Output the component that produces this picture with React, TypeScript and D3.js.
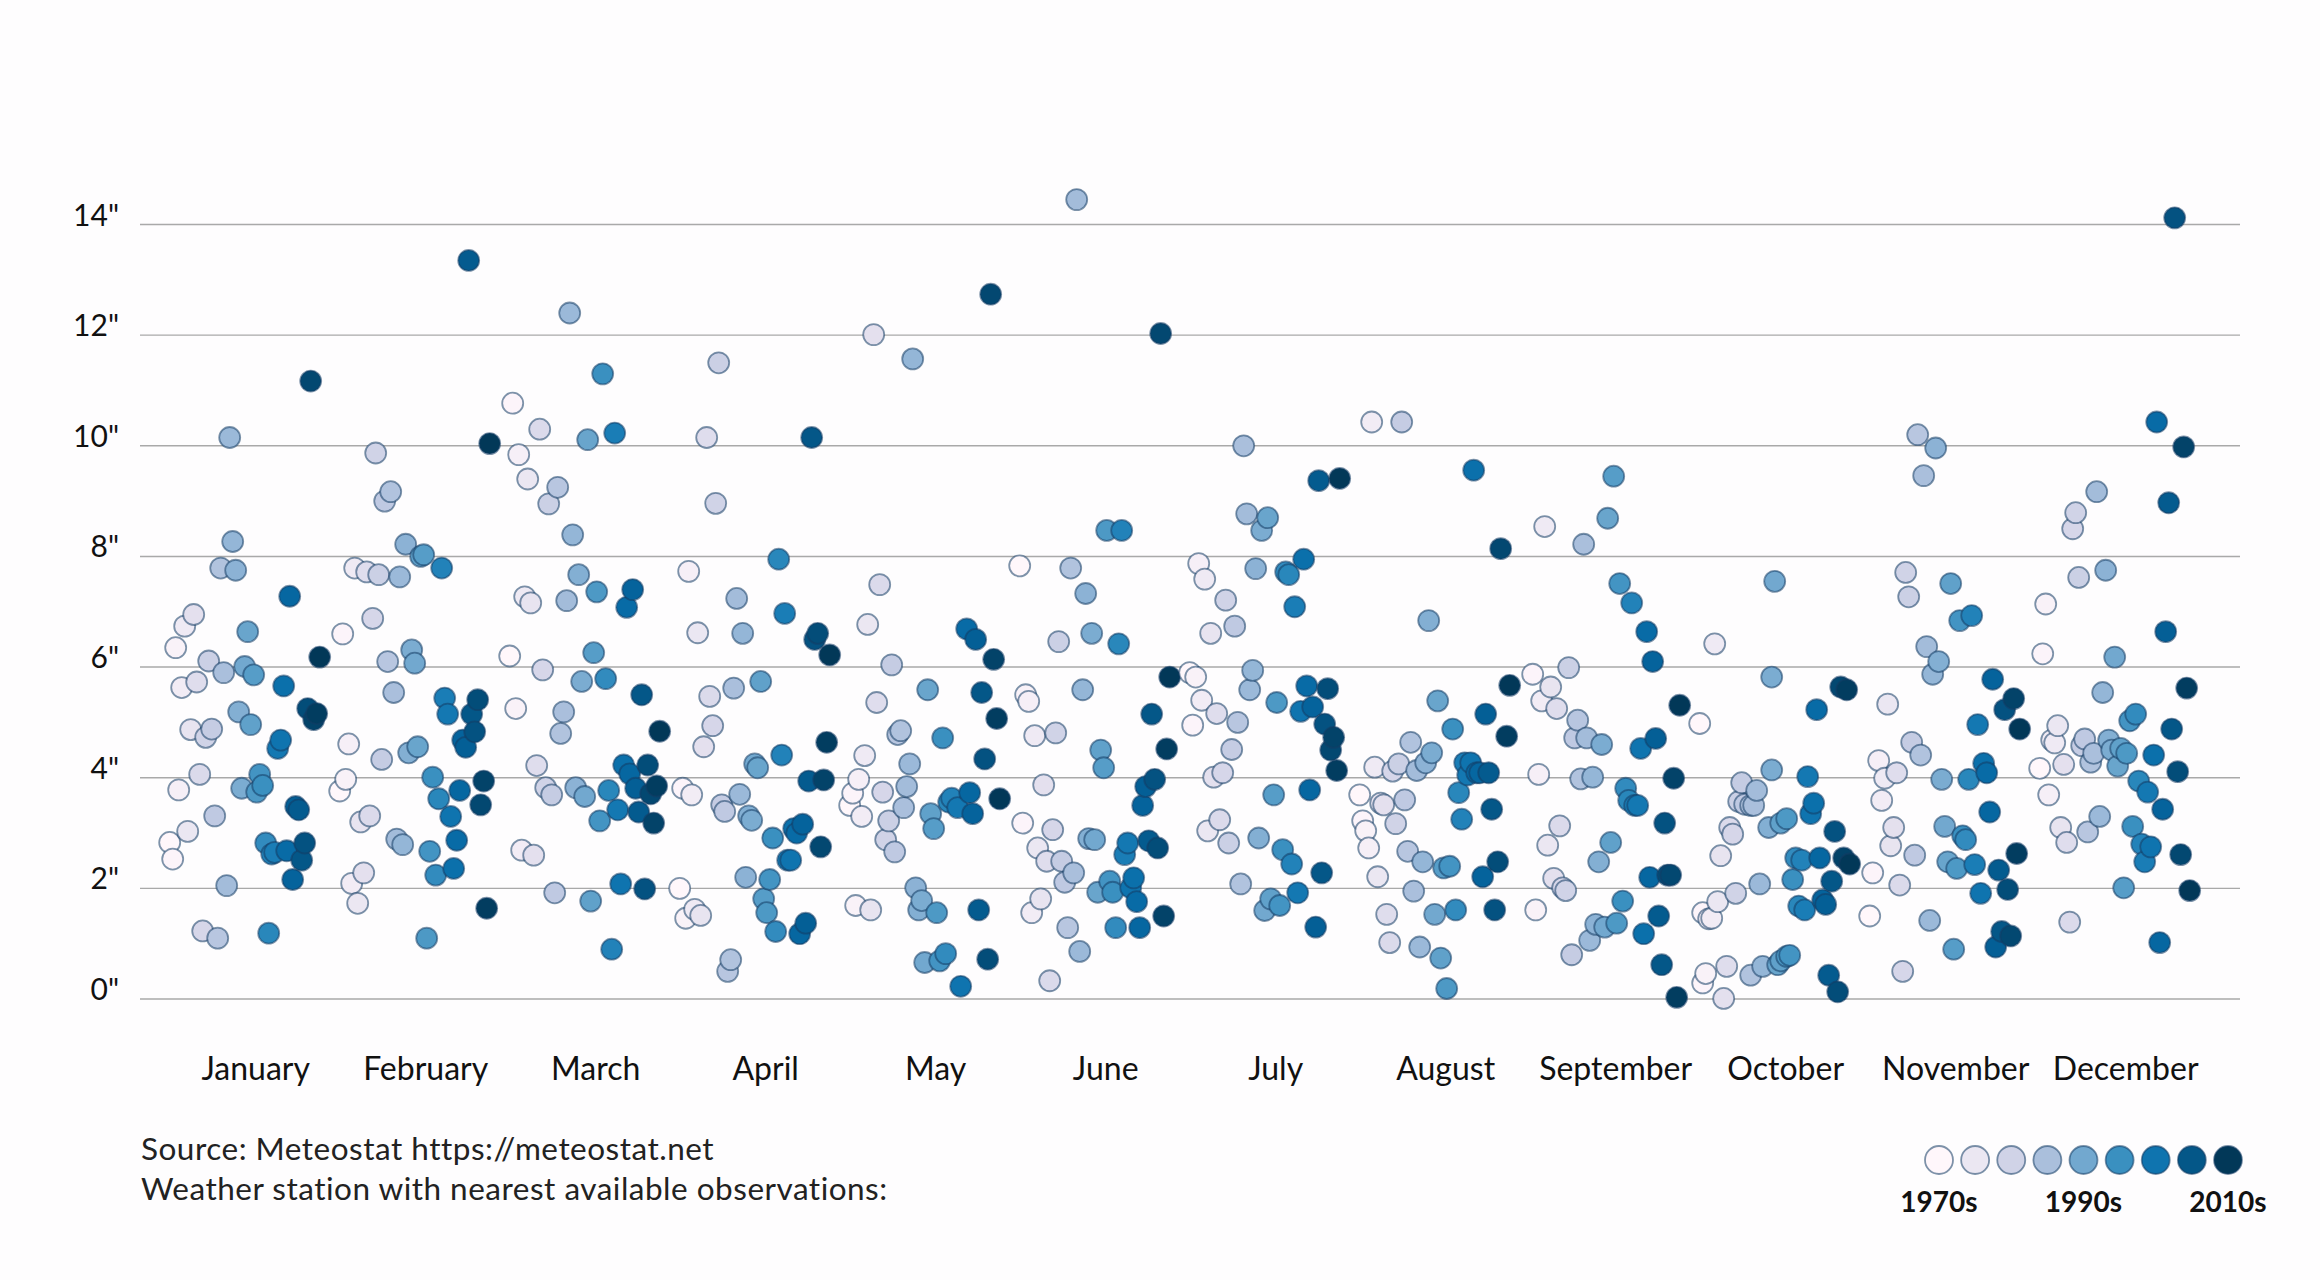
import React from 'react'
import * as d3 from 'd3'

// monthly precipitation totals (inches), [year, value]
const months = ['January', 'February', 'March', 'April', 'May', 'June', 'July', 'August', 'September', 'October', 'November', 'December']

const january: [number, number][] = [
    [1970, 2.83], [1971, 2.53], [1972, 6.35], [1973, 3.78], [1974, 5.63], [1975, 6.74], [1976, 3.03], [1977, 4.87], [1978, 6.95], [1979, 5.73],
    [1980, 4.06], [1981, 1.23], [1982, 4.73], [1983, 6.11], [1984, 4.88], [1985, 3.31], [1986, 1.1], [1987, 7.79], [1988, 5.9], [1989, 2.05],
    [1990, 10.15], [1991, 8.27], [1992, 7.75], [1993, 5.19], [1994, 3.81], [1995, 6.01], [1996, 6.64], [1997, 4.96], [1998, 5.86], [1999, 3.74],
    [2000, 4.06], [2001, 3.86], [2002, 2.82], [2003, 1.19], [2004, 2.62], [2005, 2.65], [2006, 4.53], [2007, 4.68], [2008, 5.66], [2009, 2.68],
    [2010, 7.28], [2011, 2.16], [2012, 3.48], [2013, 3.42], [2014, 2.51], [2015, 2.82], [2016, 5.25], [2017, 11.17], [2018, 5.05], [2019, 5.16], [2020, 6.18]
]
const february: [number, number][] = [
    [1970, 3.76], [1971, 6.6], [1972, 3.97], [1973, 4.61], [1974, 2.09], [1975, 7.79], [1976, 1.73], [1977, 3.2], [1978, 2.28], [1979, 7.72],
    [1980, 3.31], [1981, 6.88], [1982, 9.87], [1983, 7.67], [1984, 4.33], [1985, 9.0], [1986, 6.1], [1987, 9.17], [1988, 5.54], [1989, 2.89],
    [1990, 7.63], [1991, 2.79], [1992, 8.22], [1993, 4.45], [1994, 6.31], [1995, 6.07], [1996, 4.56], [1997, 8.0], [1998, 8.03], [1999, 1.1],
    [2000, 2.67], [2001, 4.01], [2002, 2.24], [2003, 3.62], [2004, 7.79], [2005, 5.44], [2006, 5.15], [2007, 3.3], [2008, 2.36], [2009, 2.87],
    [2010, 3.77], [2011, 4.68], [2012, 4.55], [2013, 13.35], [2014, 5.15], [2015, 4.83], [2016, 5.41], [2017, 3.51], [2018, 3.94], [2019, 1.64], [2020, 10.04]
]
const march: [number, number][] = [
    [1970, 6.2], [1971, 10.77], [1972, 5.25], [1973, 9.84], [1974, 2.69], [1975, 7.27], [1976, 9.4], [1977, 7.16], [1978, 2.6], [1979, 4.22],
    [1980, 10.3], [1981, 5.95], [1982, 3.82], [1983, 8.95], [1984, 3.69], [1985, 1.92], [1986, 9.25], [1987, 4.8], [1988, 5.19], [1989, 7.2],
    [1990, 12.4], [1991, 8.39], [1992, 3.82], [1993, 7.67], [1994, 5.74], [1995, 3.66], [1996, 10.11], [1997, 1.77], [1998, 6.26], [1999, 7.36],
    [2000, 3.22], [2001, 11.3], [2002, 5.79], [2003, 3.77], [2004, 0.9], [2005, 10.23], [2006, 3.42], [2007, 2.08], [2008, 4.23], [2009, 7.08],
    [2010, 4.07], [2011, 7.4], [2012, 3.81], [2013, 3.38], [2014, 5.5], [2015, 1.99], [2016, 4.23], [2017, 3.71], [2018, 3.18], [2019, 3.85], [2020, 4.84]
]
const april: [number, number][] = [
    [1970, 2.0], [1971, 3.81], [1972, 1.46], [1973, 7.73], [1974, 3.69], [1975, 1.62], [1976, 6.62], [1977, 1.51], [1978, 4.56], [1979, 10.15],
    [1980, 5.47], [1981, 4.94], [1982, 8.96], [1983, 11.5], [1984, 3.51], [1985, 3.39], [1986, 0.5], [1987, 0.71], [1988, 5.62], [1989, 7.24],
    [1990, 3.7], [1991, 6.61], [1992, 2.2], [1993, 3.31], [1994, 3.23], [1995, 4.25], [1996, 4.18], [1997, 5.74], [1998, 1.81], [1999, 1.56],
    [2000, 2.16], [2001, 2.91], [2002, 1.22], [2003, 7.95], [2004, 4.41], [2005, 6.97], [2006, 2.51], [2007, 2.51], [2008, 3.08], [2009, 3.0],
    [2010, 1.18], [2011, 3.16], [2012, 1.37], [2013, 3.94], [2014, 10.15], [2015, 6.5], [2016, 6.61], [2017, 2.75], [2018, 3.96], [2019, 4.64], [2020, 6.22]
]
const may: [number, number][] = [
    [1970, 3.5], [1971, 3.72], [1972, 1.69], [1973, 3.97], [1974, 3.3], [1975, 4.4], [1976, 6.77], [1977, 1.61], [1978, 12.01], [1979, 5.36],
    [1980, 7.49], [1981, 3.74], [1982, 2.88], [1983, 3.22], [1984, 6.04], [1985, 2.66], [1986, 4.78], [1987, 4.85], [1988, 3.46], [1989, 3.84],
    [1990, 4.25], [1991, 11.57], [1992, 2.01], [1993, 1.61], [1994, 1.78], [1995, 0.66], [1996, 5.59], [1997, 3.35], [1998, 3.08], [1999, 1.56],
    [2000, 0.69], [2001, 4.72], [2002, 0.82], [2003, 3.56], [2004, 3.63], [2006, 3.46], [2007, 0.23], [2009, 6.69],
    [2010, 3.73], [2011, 3.35], [2012, 6.5], [2013, 1.61], [2014, 5.54], [2015, 4.34], [2016, 0.72], [2017, 12.74], [2018, 6.14], [2019, 5.07], [2020, 3.62]
]
const june: [number, number][] = [
    [1970, 7.83], [1971, 3.18], [1972, 5.5], [1973, 5.38], [1974, 1.56], [1975, 4.76], [1976, 2.73], [1977, 1.81], [1978, 3.87], [1979, 2.49],
    [1980, 0.33], [1981, 3.06], [1982, 4.81], [1983, 6.46], [1984, 2.49], [1985, 2.11], [1986, 1.29], [1987, 7.79], [1988, 2.28], [1989, 14.45],
    [1990, 0.86], [1991, 5.59], [1992, 7.33], [1993, 2.9], [1994, 6.61], [1995, 2.88], [1996, 1.93], [1997, 4.5], [1998, 4.18], [1999, 8.47],
    [2000, 2.13], [2001, 1.93], [2002, 1.29], [2003, 6.42], [2004, 8.47], [2005, 2.61], [2006, 2.82], [2007, 2.01], [2008, 2.19], [2009, 1.76],
    [2010, 1.29], [2011, 3.5], [2012, 3.84], [2013, 2.86], [2014, 5.15], [2015, 3.97], [2016, 2.73], [2017, 12.03], [2018, 1.5], [2019, 4.52], [2020, 5.82]
]
const july: [number, number][] = [
    [1970, 5.9], [1971, 4.95], [1972, 5.82], [1973, 7.87], [1974, 5.4], [1975, 7.59], [1976, 3.04], [1977, 6.61], [1978, 4.01], [1979, 5.16],
    [1980, 3.24], [1981, 4.09], [1982, 7.21], [1983, 2.82], [1984, 4.51], [1985, 6.74], [1986, 5.0], [1987, 2.08], [1988, 10.0], [1989, 8.77],
    [1990, 5.59], [1991, 5.94], [1992, 7.78], [1993, 2.91], [1994, 8.47], [1995, 1.6], [1996, 8.7], [1997, 1.81], [1998, 3.69], [1999, 5.36],
    [2000, 1.69], [2001, 2.7], [2002, 7.72], [2003, 7.67], [2004, 2.44], [2005, 7.09], [2006, 1.92], [2007, 5.2], [2008, 7.95], [2009, 5.66],
    [2010, 3.78], [2011, 5.28], [2012, 1.3], [2013, 9.37], [2014, 2.28], [2015, 4.97], [2016, 5.61], [2017, 4.5], [2018, 4.73], [2019, 4.13], [2020, 9.41]
]
const august: [number, number][] = [
    [1970, 3.69], [1971, 3.22], [1972, 3.04], [1973, 2.73], [1974, 10.43], [1975, 4.19], [1976, 2.21], [1977, 3.54], [1978, 3.51], [1979, 1.53],
    [1980, 1.02], [1981, 4.12], [1982, 3.17], [1983, 4.25], [1984, 10.43], [1985, 3.6], [1986, 2.67], [1987, 4.64], [1988, 1.95], [1989, 4.13],
    [1990, 0.94], [1991, 2.48], [1992, 4.27], [1993, 6.84], [1994, 4.45], [1995, 1.53], [1996, 5.39], [1997, 0.74], [1998, 2.37], [1999, 0.19],
    [2000, 2.4], [2001, 4.88], [2002, 1.61], [2003, 3.73], [2004, 3.25], [2005, 4.27], [2006, 4.05], [2007, 4.27], [2008, 9.56], [2009, 4.09],
    [2010, 4.09], [2011, 2.21], [2012, 5.15], [2013, 4.09], [2014, 3.43], [2015, 1.61], [2016, 2.48], [2017, 8.14], [2019, 4.75], [2020, 5.67]
]
const september: [number, number][] = [
    [1971, 5.87], [1972, 1.61], [1973, 4.06], [1974, 5.39], [1975, 8.54], [1976, 2.78], [1977, 5.64], [1978, 2.18], [1979, 5.25],
    [1980, 3.13], [1981, 2.01], [1982, 1.96], [1983, 5.99], [1984, 0.8], [1985, 4.72], [1986, 5.04], [1987, 3.98], [1988, 8.22], [1989, 4.72],
    [1990, 1.06], [1991, 4.01], [1992, 1.35], [1993, 2.48], [1994, 4.6], [1995, 1.3], [1996, 8.69], [1997, 2.83], [1998, 9.45], [1999, 1.37],
    [2000, 7.51], [2001, 1.77], [2002, 3.81], [2003, 3.59], [2004, 7.16], [2005, 3.5], [2006, 3.5], [2007, 4.53], [2008, 1.18], [2009, 6.64],
    [2010, 2.2], [2011, 6.1], [2012, 4.71], [2013, 1.5], [2014, 0.62], [2015, 3.18], [2016, 2.24], [2017, 2.24], [2018, 3.99], [2019, 0.03], [2020, 5.31]
]
const october: [number, number][] = [
    [1970, 4.98], [1971, 1.56], [1971, 0.29], [1972, 0.46], [1973, 1.45], [1974, 1.46], [1975, 6.42], [1976, 1.76], [1977, 2.59], [1978, 0.01], [1979, 0.59],
    [1980, 3.1], [1981, 2.98], [1982, 1.91], [1983, 3.57], [1984, 3.91], [1985, 3.52], [1987, 3.5], [1987, 0.43], [1988, 3.5], [1989, 3.77],
    [1990, 2.08], [1991, 0.59], [1993, 3.1], [1994, 4.14], [1994, 5.82], [1995, 7.55], [1996, 0.62], [1997, 0.69], [1997, 3.18], [1999, 0.77], [1999, 3.26],
    [2000, 0.79], [2001, 2.16], [2002, 2.55], [2003, 1.68], [2004, 2.51], [2005, 1.61], [2006, 4.02], [2007, 3.35], [2008, 3.54], [2009, 5.23],
    [2010, 2.55], [2011, 1.79], [2012, 1.71], [2013, 0.43], [2014, 2.13], [2015, 3.03], [2016, 0.13], [2017, 5.64], [2018, 2.55], [2019, 5.59], [2020, 2.44]
]
const november: [number, number][] = [
    [1970, 1.5], [1971, 2.28], [1973, 4.31], [1974, 3.59], [1975, 3.99], [1976, 5.33], [1977, 2.77], [1978, 3.1], [1979, 4.09],
    [1980, 2.06], [1981, 0.5], [1982, 7.71], [1983, 7.27], [1984, 4.64], [1985, 2.6], [1986, 10.2], [1987, 4.41], [1988, 9.46], [1989, 6.37],
    [1990, 1.42], [1991, 5.87], [1992, 9.96], [1993, 6.1], [1994, 3.97], [1995, 3.12], [1996, 2.48], [1997, 7.51], [1998, 0.9], [1999, 2.36],
    [2000, 6.84], [2001, 2.95], [2002, 2.88], [2003, 3.97], [2004, 6.93], [2005, 2.43], [2006, 4.96], [2007, 1.91], [2008, 4.26], [2009, 4.09],
    [2010, 3.38], [2011, 5.78], [2012, 0.94], [2013, 2.33], [2014, 1.22], [2015, 5.23], [2016, 1.98], [2017, 1.14], [2018, 5.43], [2019, 2.63], [2020, 4.88]
]
const december: [number, number][] = [
    [1970, 4.17], [1971, 6.24], [1972, 7.14], [1973, 3.69], [1974, 4.68], [1975, 4.63], [1976, 4.94], [1977, 3.1], [1978, 4.24], [1979, 2.83],
    [1980, 1.39], [1981, 8.5], [1982, 8.79], [1983, 7.62], [1984, 4.58], [1985, 4.7], [1986, 3.02], [1987, 4.28], [1988, 4.44], [1989, 9.17],
    [1990, 3.3], [1991, 5.54], [1992, 7.75], [1993, 4.68], [1994, 4.5], [1995, 6.18], [1996, 4.21], [1997, 4.53], [1998, 2.01], [1999, 4.44],
    [2000, 5.03], [2001, 3.12], [2002, 5.15], [2003, 3.94], [2004, 2.8], [2005, 2.48], [2006, 3.74], [2007, 2.75], [2008, 4.41], [2009, 10.43],
    [2010, 1.02], [2011, 3.43], [2012, 6.64], [2013, 8.97], [2014, 4.88], [2015, 14.12], [2016, 4.11], [2017, 2.61], [2018, 9.98], [2019, 5.62], [2020, 1.96]
]

const monthData = [january, february, march, april, may, june, july, august, september, october, november, december]
const yTicks = [0, 2, 4, 6, 8, 10, 12, 14]
const legendYears = [1970, 1976, 1982, 1988, 1995, 2001, 2007, 2014, 2020]
const legendLabels = ['1970s', '1990s', '2010s']
const sourceLines = ['Source: Meteostat https://meteostat.net', 'Weather station with nearest available observations:']

const W = 2320
const H = 1280
const FONT = 'Lato, "Open Sans", sans-serif'

export default function App() {
    const x = d3.scaleBand<string>().domain(months).range([169.7, 2209.7])
    const yearX = d3.scaleLinear().domain([1970, 2020]).range([0, 150])
    const y = d3.scaleLinear().domain([0, 14]).range([999, 224.5])
    const color = d3.scaleSequential(d3.interpolatePuBu).domain([1970, 2020])
    const legendX = d3.scalePoint<number>().domain(legendYears).range([1939, 2228])

    return (
        <svg width={W} height={H} style={{ position: 'absolute', left: 0, top: 0, background: '#fefdfe' }} fontFamily={FONT}>
            {/* grid + y labels */}
            {yTicks.map((t) => (
                <g key={t}>
                    <line x1={140} x2={2240} y1={y(t)} y2={y(t)} stroke="#a9a9a9" strokeWidth={1.4} />
                    <text x={119} y={y(t) + 1} textAnchor="end" fontSize={30} fill="#111">
                        {t}"
                    </text>
                </g>
            ))}

            {/* dots */}
            {monthData.map((rows, i) => (
                <g key={months[i]}>
                    {rows.map(([yr, v], j) => (
                        <circle
                            key={j}
                            cx={x(months[i])! + yearX(yr)}
                            cy={y(v)}
                            r={10.5}
                            fill={color(yr)}
                            stroke="rgb(20,60,100)"
                            strokeOpacity={0.55}
                            strokeWidth={1.8}
                        />
                    ))}
                </g>
            ))}

            {/* month labels */}
            {months.map((m) => (
                <text key={m} x={x(m)! + x.bandwidth() / 2 + 1} y={1080} textAnchor="middle" fontSize={32} fill="#111">
                    {m}
                </text>
            ))}

            {sourceLines.map((s, i) => (
                <text key={i} x={141} y={1160 + i * 40} fontSize={31.5} letterSpacing={0.5} fill="#222">
                    {s}
                </text>
            ))}

            {/* legend */}
            {legendYears.map((yr) => (
                <circle
                    key={yr}
                    cx={legendX(yr)}
                    cy={1160}
                    r={14}
                    fill={color(yr)}
                    stroke="rgb(20,60,100)"
                    strokeOpacity={0.55}
                    strokeWidth={1.8}
                />
            ))}
            {legendLabels.map((l, i) => (
                <text key={l} x={legendX(legendYears[i * 4])} y={1212} textAnchor="middle" fontSize={28} fontWeight={700} fill="#111">
                    {l}
                </text>
            ))}
        </svg>
    )
}
